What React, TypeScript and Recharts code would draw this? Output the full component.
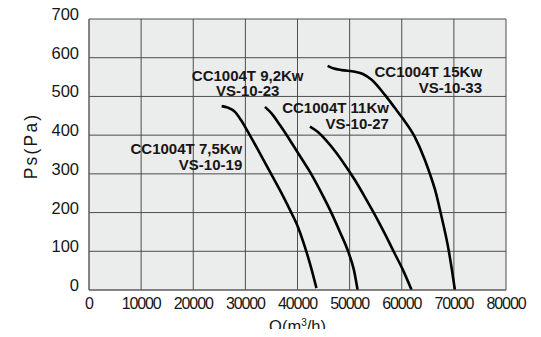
import React from 'react';
import { LineChart, Line, XAxis, YAxis, CartesianGrid, ReferenceDot } from 'recharts';

// Axis ticks
const xTicks = [0, 10000, 20000, 30000, 40000, 50000, 60000, 70000, 80000];
const yTicks = [0, 100, 200, 300, 400, 500, 600, 700];

// Fan curves: Q (m3/h) and Ps (Pa)
const q75 = [25450, 26660, 28000, 29150, 30300, 32220, 34330, 36630, 38550, 40080, 41430, 42580, 43630];
const p75 = [475, 471, 460, 439, 413, 367, 315, 258, 207, 163, 111, 59, 5];

const q92 = [33760, 35100, 36630, 38550, 40470, 42390, 44310, 46550, 48140, 49730, 50820, 51530];
const p92 = [473, 455, 426, 387, 346, 305, 258, 198, 150, 99, 52, 0];

const q11 = [42390, 43920, 45450, 47180, 49100, 51010, 52930, 54850, 56770, 58690, 60220, 61890];
const p11 = [422, 408, 387, 359, 323, 284, 240, 194, 145, 93, 52, 0];

const q15 = [45780, 46990, 48470, 51020, 52550, 54220, 56770, 58690, 60130, 62520, 64440, 65400, 66550, 67450, 69040, 69620, 70200];
const p15 = [579, 572, 568, 564, 558, 543, 504, 470, 444, 395, 336, 300, 251, 200, 100, 52, 0];

// Curve annotations
const noteLine1 = ['CC1004T 7,5Kw', 'CC1004T 9,2Kw', 'CC1004T 11Kw', 'CC1004T 15Kw'];
const noteLine2 = ['VS-10-19', 'VS-10-23', 'VS-10-27', 'VS-10-33'];
const noteQ = [29400, 30440, 57540, 75410];
const noteP = [351, 541, 456.5, 551];

// Layout for annotations (alignment & line gap)
const noteAnchor = ['end', 'middle', 'end', 'end'];
const noteGap = [16, 15, 15.7, 16];

const toData = (q: number[], p: number[]) => q.map((v, i) => ({ q: v, p: p[i] }));

const curves = [toData(q75, p75), toData(q92, p92), toData(q11, p11), toData(q15, p15)];

const FONT = '"Liberation Sans", Arial, Helvetica, sans-serif';
const TEXT = '#161616';

const YTick = (props: any) => {
  const { x, y, payload } = props;
  return (
    <text x={x} y={y + 1} textAnchor="end" fontSize={16.5} fill={TEXT} fontFamily={FONT}>
      {payload.value}
    </text>
  );
};

const XTick = (props: any) => {
  const { x, y, payload } = props;
  return (
    <text x={x} y={y + 19.3} textAnchor="middle" fontSize={16} letterSpacing={-1.1} fill={TEXT} fontFamily={FONT}>
      {payload.value}
    </text>
  );
};

const makeNote = (i: number) => (props: any) => {
  const vb = props.viewBox;
  const cx = vb.x + vb.width / 2;
  const cy = vb.y + vb.height / 2;
  return (
    <text x={cx} y={cy} textAnchor={noteAnchor[i] as any} fontSize={15} fontWeight={700} fill={TEXT} fontFamily={FONT}>
      <tspan x={cx}>{noteLine1[i]}</tspan>
      <tspan x={cx} dy={noteGap[i]}>{noteLine2[i]}</tspan>
    </text>
  );
};

const XLabel = (props: any) => {
  const vb = props.viewBox;
  return (
    <text x={vb.x + vb.width / 2} y={vb.y + 42} textAnchor="middle" fontSize={16.5} fill={TEXT} fontFamily={FONT}>
      Q(m<tspan fontSize={10} dy={-6}>3</tspan><tspan dy={6}>/h)</tspan>
    </text>
  );
};

const YLabel = (props: any) => {
  const vb = props.viewBox;
  const x = vb.x + 29.3;
  const y = 138;
  return (
    <text x={x} y={y} textAnchor="middle" fontSize={17.5} letterSpacing={2.2} fill={TEXT} fontFamily={FONT} transform={`rotate(-90 ${x} ${y})`}>
      Ps(Pa)
    </text>
  );
};

export default function App() {
  return (
    <div style={{ width: 533, height: 321 }}>
      <style>{`.recharts-surface{overflow:visible}`}</style>
      <LineChart width={533} height={321} margin={{ top: 11, right: 35, left: 0, bottom: 0 }}>
        <CartesianGrid stroke="#4d4d4d" strokeWidth={1} fill="#ebecec" fillOpacity={1} />
        <XAxis
          type="number"
          dataKey="q"
          domain={[0, 80000]}
          ticks={xTicks}
          interval={0}
          height={39}
          tickLine={false}
          tickSize={0}
          tickMargin={0}
          axisLine={{ stroke: '#666' }}
          tick={<XTick />}
          label={<XLabel />}
          allowDataOverflow
        />
        <YAxis
          type="number"
          dataKey="p"
          domain={[0, 700]}
          ticks={yTicks}
          interval={0}
          width={81}
          tickLine={false}
          tickSize={0}
          tickMargin={10}
          axisLine={{ stroke: '#666' }}
          tick={<YTick />}
          label={<YLabel />}
          allowDataOverflow
        />
        {curves.map((d, i) => (
          <Line
            key={i}
            data={d}
            dataKey="p"
            type="monotone"
            stroke="#000"
            strokeWidth={2.6}
            dot={false}
            activeDot={false}
            isAnimationActive={false}
          />
        ))}
        {noteQ.map((q, i) => (
          <ReferenceDot
            key={'n' + i}
            x={q}
            y={noteP[i]}
            r={1}
            fill="none"
            stroke="none"
            ifOverflow="visible"
            label={makeNote(i)}
          />
        ))}
      </LineChart>
    </div>
  );
}
